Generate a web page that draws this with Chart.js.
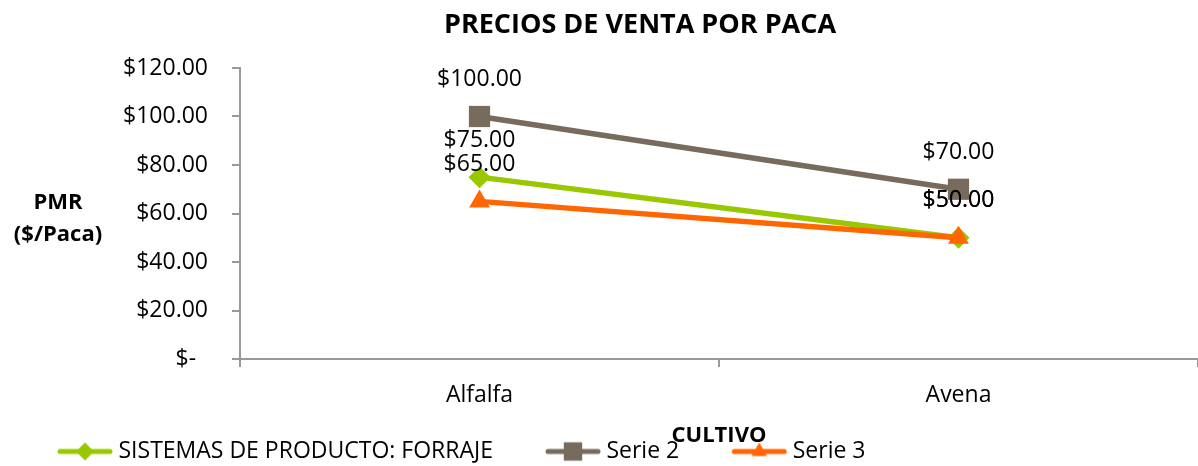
<!DOCTYPE html>
<html>
<head>
<meta charset="utf-8">
<script src="https://cdn.jsdelivr.net/npm/chart.js@4.4.1/dist/chart.umd.min.js"></script>
<style>
  html, body { margin: 0; padding: 0; background: #fff; }
  canvas { display: block; }
</style>
</head>
<body>
<canvas id="chart" width="1198" height="466"></canvas>
<script>
const categories = ['Alfalfa', 'Avena'];
const seriesNames = ['SISTEMAS DE PRODUCTO: FORRAJE', 'Serie 2', 'Serie 3'];
const forraje = [75, 50];
const serie2 = [100, 70];
const serie3 = [65, 50];
const yTicks = [0, 20, 40, 60, 80, 100, 120];

const colors = ['#99C800', '#776B5D', '#FF6600'];
const pointStyles = ['rectRot', 'rect', 'triangle'];
const FONT = "'Open Sans', sans-serif";
const AXIS = '#999999';
const PAD = { left: 5, right: -4, top: 68, bottom: -7 };

function money(v) {
    return v === 0 ? '$-  ' : '$' + v.toFixed(2);
}

// icono de leyenda: línea con marcador, con margen transparente a la izquierda
function legendIcon(color, style, radius) {
    const c = document.createElement('canvas');
    c.width = 104; c.height = 24;
    const ctx = c.getContext('2d');
    ctx.strokeStyle = color;
    ctx.lineWidth = 5;
    ctx.lineCap = 'round';
    ctx.beginPath(); ctx.moveTo(51, 12); ctx.lineTo(101, 12); ctx.stroke();
    ctx.fillStyle = color;
    Chart.helpers.drawPoint(ctx, { pointStyle: style, radius: radius, borderWidth: 0, rotation: 0 }, 76, 12);
    return c;
}
const icons = [legendIcon(colors[0], 'rectRot', 9), legendIcon(colors[1], 'rect', 13), legendIcon(colors[2], 'triangle', 9)];

// etiquetas de valor encima de cada punto
const valueLabels = {
    id: 'valueLabels',
    afterDatasetsDraw(chart) {
        const ctx = chart.ctx;
        ctx.save();
        ctx.font = '23px ' + FONT;
        ctx.fillStyle = '#000';
        ctx.textAlign = 'center';
        ctx.textBaseline = 'middle';
        chart.data.datasets.forEach((ds, i) => {
            chart.getDatasetMeta(i).data.forEach((pt, j) => {
                ctx.fillText(money(ds.data[j]), pt.x, pt.y - 37);
            });
        });
        ctx.restore();
    }
};

// título y títulos de ejes al estilo Excel
const chartTitles = {
    id: 'chartTitles',
    afterDraw(chart) {
        const ctx = chart.ctx;
        const area = chart.chartArea;
        ctx.save();
        ctx.fillStyle = '#000';
        ctx.textAlign = 'center';
        ctx.textBaseline = 'middle';
        ctx.font = 'bold 27px ' + FONT;
        ctx.fillText('PRECIOS DE VENTA POR PACA', 640, 25);
        ctx.font = 'bold 22px ' + FONT;
        ctx.fillText('CULTIVO', (area.left + area.right) / 2, 436);
        ctx.fillText('PMR', 58, 203);
        ctx.fillText('($/Paca)', 58, 235);
        ctx.restore();
    }
};

const series = [forraje, serie2, serie3];
const drawOrder = [1, 2, 0];

new Chart(document.getElementById('chart').getContext('2d'), {
    type: 'line',
    data: {
        labels: categories,
        datasets: series.map((data, i) => ({
            label: seriesNames[i],
            data: data,
            borderColor: colors[i],
            backgroundColor: colors[i],
            borderWidth: 5.5,
            tension: 0,
            pointStyle: pointStyles[i],
            pointRadius: [11, 15, 12][i],
            pointHoverRadius: [11, 15, 12][i],
            pointBorderWidth: 0,
            order: drawOrder[i]
        }))
    },
    options: {
        responsive: false,
        animation: false,
        layout: { padding: PAD, autoPadding: false },
        plugins: {
            tooltip: { enabled: false },
            title: { display: false },
            legend: {
                position: 'bottom',
                align: 'start',
                labels: {
                    color: '#000',
                    font: { family: FONT, size: 23 },
                    padding: 10,
                    usePointStyle: true,
                    pointStyleWidth: 92,
                    generateLabels: () => seriesNames.map((name, i) => ({
                        text: name,
                        pointStyle: icons[i],
                        fillStyle: colors[i],
                        strokeStyle: colors[i],
                        lineWidth: 0,
                        hidden: false,
                        datasetIndex: i
                    }))
                }
            }
        },
        scales: {
            x: {
                offset: true,
                grid: { display: true, offset: true, drawOnChartArea: false, tickLength: 8, color: AXIS, lineWidth: 2 },
                border: { display: true, color: AXIS, width: 2 },
                ticks: { color: '#000', font: { family: FONT, size: 23 }, padding: 15 },
                afterFit(s) {
                    const ch = s.chart;
                    s.height = ch.height - 359 - (ch.legend ? ch.legend.height : 0) - PAD.bottom;
                    s.paddingLeft = 0;
                    s.paddingRight = 0;
                }
            },
            y: {
                min: 0,
                max: 120,
                grid: { display: true, drawOnChartArea: false, tickLength: 8, color: AXIS, lineWidth: 2 },
                border: { display: true, color: AXIS, width: 2 },
                ticks: { color: '#000', font: { family: FONT, size: 23 }, padding: 24, callback: v => money(v) },
                afterBuildTicks(s) { s.ticks = yTicks.map(v => ({ value: v })); },
                afterFit(s) {
                    s.width = 240 - PAD.left;
                    s.paddingTop = 0;
                    s.paddingBottom = 0;
                }
            }
        }
    },
    plugins: [valueLabels, chartTitles]
});
</script>
</body>
</html>
